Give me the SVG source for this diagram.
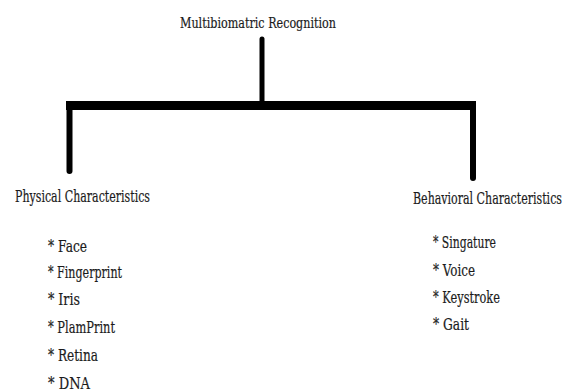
<svg xmlns="http://www.w3.org/2000/svg" width="574" height="391" viewBox="0 0 574 391">
  <style>
    .lbl { fill: #1b1b1b; stroke: #1b1b1b; stroke-width: 0.2; }
    .title { font-size: 15px; }
    .head { font-size: 17px; }
    .item { font-size: 17px; }
    .wire { stroke: #000; fill: none; stroke-linecap: round; }
    .bar { stroke: #000; fill: none; stroke-linecap: butt; }
  </style>
  <rect width="574" height="391" fill="#fff"/>

  <!-- tree connectors -->
  <g id="connectors">
    <line class="wire" x1="262" y1="39" x2="262" y2="106" stroke-width="5"/>
    <line class="bar" x1="66" y1="105.5" x2="476" y2="105.5" stroke-width="9"/>
    <line class="wire" x1="69.5" y1="106" x2="69.5" y2="171" stroke-width="6"/>
    <line class="wire" x1="473" y1="106" x2="473" y2="178" stroke-width="6"/>
  </g>

  <g font-family="'DejaVu Serif', serif">
    <g id="root">
      <text class="lbl title" x="180" y="28" textLength="156" lengthAdjust="spacingAndGlyphs">Multibiomatric Recognition</text>
    </g>

    <g id="physical">
      <text class="lbl head" x="15" y="202" textLength="135" lengthAdjust="spacingAndGlyphs">Physical Characteristics</text>
      <text class="lbl item" x="48" y="252" textLength="39" lengthAdjust="spacingAndGlyphs">* Face</text>
      <text class="lbl item" x="48" y="278" textLength="74" lengthAdjust="spacingAndGlyphs">* Fingerprint</text>
      <text class="lbl item" x="48" y="305" textLength="32" lengthAdjust="spacingAndGlyphs">* Iris</text>
      <text class="lbl item" x="48" y="333" textLength="67" lengthAdjust="spacingAndGlyphs">* PlamPrint</text>
      <text class="lbl item" x="48" y="361" textLength="50" lengthAdjust="spacingAndGlyphs">* Retina</text>
      <text class="lbl item" x="48" y="389" textLength="42" lengthAdjust="spacingAndGlyphs">* DNA</text>
    </g>

    <g id="behavioral">
      <text class="lbl head" x="413" y="204" textLength="149" lengthAdjust="spacingAndGlyphs">Behavioral Characteristics</text>
      <text class="lbl item" x="433" y="248" textLength="63" lengthAdjust="spacingAndGlyphs">* Singature</text>
      <text class="lbl item" x="433" y="276" textLength="42" lengthAdjust="spacingAndGlyphs">* Voice</text>
      <text class="lbl item" x="433" y="303" textLength="67" lengthAdjust="spacingAndGlyphs">* Keystroke</text>
      <text class="lbl item" x="433" y="330" textLength="36" lengthAdjust="spacingAndGlyphs">* Gait</text>
    </g>
  </g>
</svg>
